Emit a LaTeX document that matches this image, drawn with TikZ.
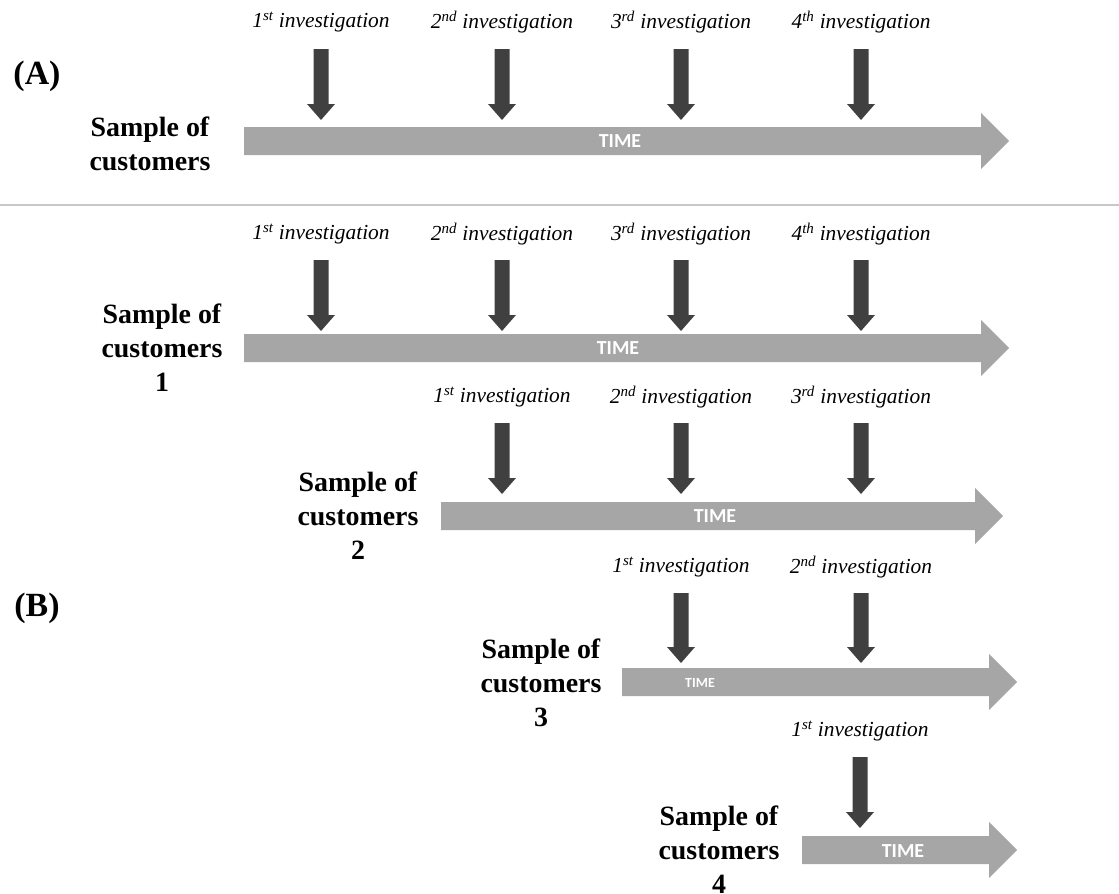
\documentclass[tikz,border=0pt]{standalone}
\usepackage{fontspec}
\setmainfont{Liberation Serif}
\newfontfamily\timefont{Carlito}
\definecolor{barGray}{RGB}{166,166,166}
\definecolor{arrowDark}{RGB}{64,64,64}
\definecolor{sepGray}{RGB}{200,200,200}

% time bar: start x, tip x, centre y
\newcommand{\timeBar}[3]{%
  \fill[barGray] (#1,#3-14) -- (#2-28,#3-14) -- (#2-28,#3-28) -- (#2,#3)
     -- (#2-28,#3+28) -- (#2-28,#3+14) -- (#1,#3+14) -- cycle;}
% investigation arrow: centre x, top y, tip y
\newcommand{\invArrow}[3]{%
  \fill[arrowDark] (#1-7.5,#2) -- (#1+7.5,#2) -- (#1+7.5,#3-16) -- (#1+14,#3-16)
     -- (#1,#3) -- (#1-14,#3-16) -- (#1-7.5,#3-16) -- cycle;}

\tikzset{
  invlabel/.style={inner sep=0pt, font=\itshape\fontsize{21.5}{24}\selectfont},
  samplelabel/.style={inner sep=0pt, align=center, font=\bfseries\fontsize{28}{34}\selectfont},
  timelabel/.style={inner sep=0pt, text=white, font=\timefont\bfseries\fontsize{20}{24}\selectfont},
  smalltime/.style={timelabel, font=\timefont\bfseries\fontsize{14}{16}\selectfont},
  panellabel/.style={inner sep=0pt, font=\bfseries\fontsize{34}{38}\selectfont},
  sepline/.style={draw=sepGray, line width=2.2pt}
}

\begin{document}
\begin{tikzpicture}[x=1bp, y=-1bp]
\useasboundingbox (0,0) rectangle (1119,894);

% ---------- panel (A)
\node[panellabel] (pA) at (37,76) {(A)};
\timeBar{244}{1009}{141}
\node[timelabel] (tA) at (620,141) {TIME};
\node[samplelabel] (sA) at (150,144) {Sample of\\customers};
\foreach \x/\t [count=\i] in {321/1\textsuperscript{st},502/2\textsuperscript{nd},681/3\textsuperscript{rd},861/4\textsuperscript{th}}{
  \node[invlabel] (iA\i) at (\x,22) {\t{} investigation};
  \invArrow{\x}{49}{120}
}

\draw[sepline] (0,205) -- (1119,205);

% ---------- panel (B)
\node[panellabel] (pB) at (37,608) {(B)};

% cohort 1
\timeBar{244}{1009}{348}
\node[timelabel] (tB1) at (618,348) {TIME};
\node[samplelabel] (sB1) at (162,348) {Sample of\\customers\\1};
\foreach \x/\t [count=\i] in {321/1\textsuperscript{st},502/2\textsuperscript{nd},681/3\textsuperscript{rd},861/4\textsuperscript{th}}{
  \node[invlabel] (iB1\i) at (\x,234) {\t{} investigation};
  \invArrow{\x}{260}{331}
}

% cohort 2
\timeBar{441}{1003}{516}
\node[timelabel] (tB2) at (715,516) {TIME};
\node[samplelabel] (sB2) at (358,516) {Sample of\\customers\\2};
\foreach \x/\t [count=\i] in {502/1\textsuperscript{st},681/2\textsuperscript{nd},861/3\textsuperscript{rd}}{
  \node[invlabel] (iB2\i) at (\x,397) {\t{} investigation};
  \invArrow{\x}{423}{494}
}

% cohort 3
\timeBar{622}{1017}{682}
\node[smalltime] (tB3) at (700,683) {TIME};
\node[samplelabel] (sB3) at (541,683) {Sample of\\customers\\3};
\foreach \x/\t [count=\i] in {681/1\textsuperscript{st},861/2\textsuperscript{nd}}{
  \node[invlabel] (iB3\i) at (\x,567) {\t{} investigation};
  \invArrow{\x}{593}{663}
}

% cohort 4
\timeBar{802}{1017}{850}
\node[timelabel] (tB4) at (903,851) {TIME};
\node[samplelabel] (sB4) at (719,850) {Sample of\\customers\\4};
\node[invlabel] (iB41) at (860,731) {1\textsuperscript{st} investigation};
\invArrow{860}{757}{828}
\end{tikzpicture}
\end{document}
